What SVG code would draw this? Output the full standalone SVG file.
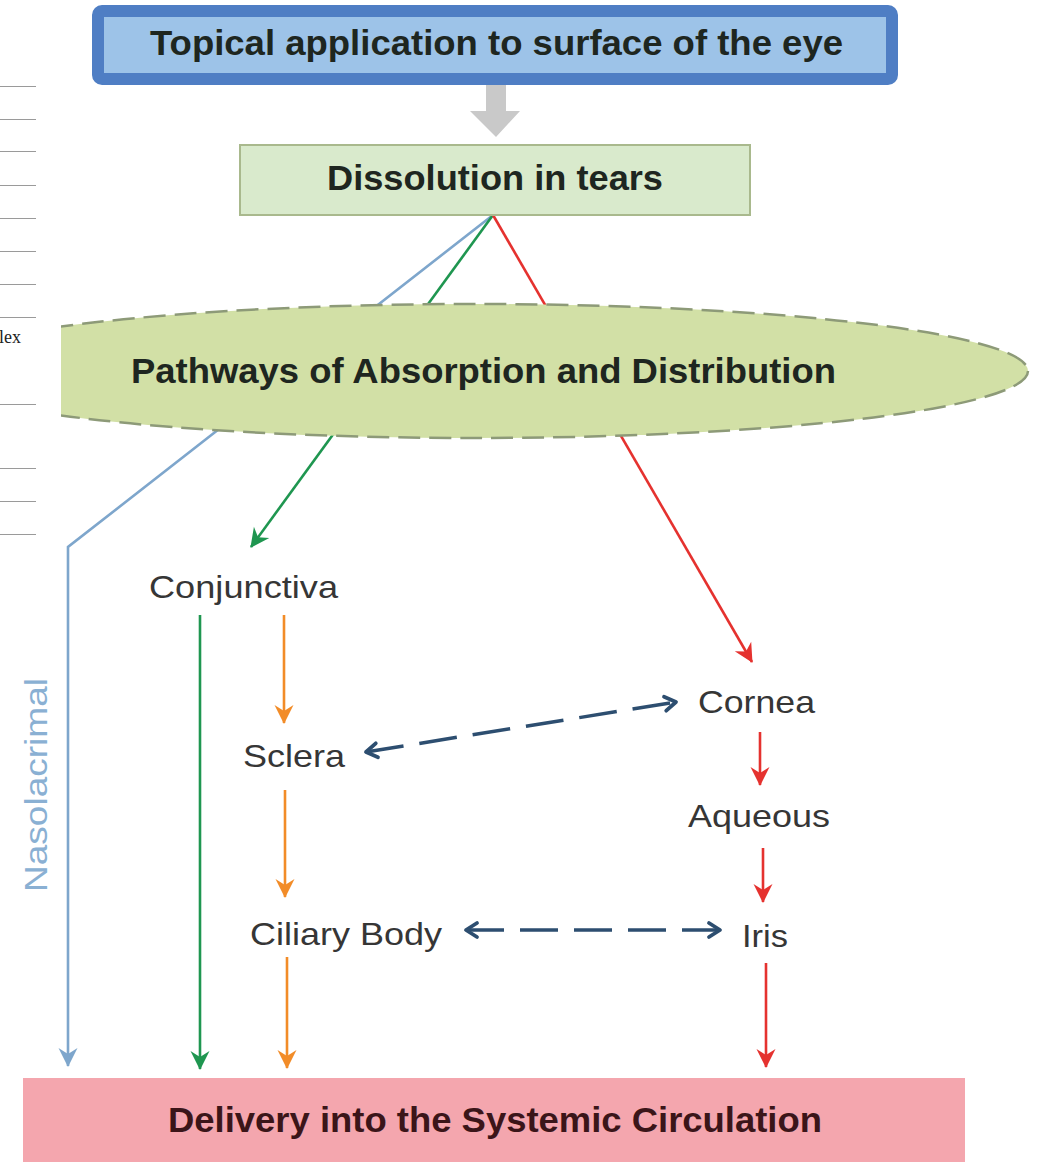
<svg xmlns="http://www.w3.org/2000/svg" width="1040" height="1162" viewBox="0 0 1040 1162">
  <style>
    .bold { font-family: "Liberation Sans", Arial, sans-serif; font-weight: bold; fill: #1e2620; }
    .lbl { font-family: "Liberation Sans", Arial, sans-serif; font-size: 32px; fill: #363636; }
    .rule { stroke: #9a9a9a; stroke-width: 1; }
    .conn { fill: none; stroke-width: 2.6; }
    .dash { fill: none; stroke: #2d4e70; stroke-width: 3.5; stroke-dasharray: 38 16; }
  </style>
  <defs>
    <marker id="ah-blue" viewBox="0 0 24 24" refX="20" refY="12" markerWidth="24" markerHeight="24" markerUnits="userSpaceOnUse" orient="auto">
      <path d="M2,2.5 L21,12 L2,21.5 L8,12 z" fill="#7ea6cc"/>
    </marker>
    <marker id="ah-green" viewBox="0 0 24 24" refX="20" refY="12" markerWidth="24" markerHeight="24" markerUnits="userSpaceOnUse" orient="auto">
      <path d="M2,2.5 L21,12 L2,21.5 L8,12 z" fill="#1f9650"/>
    </marker>
    <marker id="ah-red" viewBox="0 0 24 24" refX="20" refY="12" markerWidth="24" markerHeight="24" markerUnits="userSpaceOnUse" orient="auto">
      <path d="M2,2.5 L21,12 L2,21.5 L8,12 z" fill="#e5322f"/>
    </marker>
    <marker id="ah-orange" viewBox="0 0 24 24" refX="20" refY="12" markerWidth="24" markerHeight="24" markerUnits="userSpaceOnUse" orient="auto">
      <path d="M2,2.5 L21,12 L2,21.5 L8,12 z" fill="#f28c28"/>
    </marker>
    <marker id="ah-open" viewBox="0 0 20 20" refX="16" refY="10" markerWidth="20" markerHeight="20" markerUnits="userSpaceOnUse" orient="auto-start-reverse">
      <path d="M5,3 L16,10 L5,17" fill="none" stroke="#2d4e70" stroke-width="3.8" stroke-linecap="round" stroke-linejoin="round"/>
    </marker>
    <clipPath id="clip-oval">
      <rect x="61" y="280" width="979" height="190"/>
    </clipPath>
  </defs>

  <rect width="1040" height="1162" fill="#ffffff"/>

  <!-- margin rules and fragment of neighbouring page text -->
  <g id="margin">
    <line class="rule" x1="0" y1="86.5" x2="36" y2="86.5"/>
    <line class="rule" x1="0" y1="119.5" x2="36" y2="119.5"/>
    <line class="rule" x1="0" y1="151.5" x2="36" y2="151.5"/>
    <line class="rule" x1="0" y1="185.5" x2="36" y2="185.5"/>
    <line class="rule" x1="0" y1="218.5" x2="36" y2="218.5"/>
    <line class="rule" x1="0" y1="251.5" x2="36" y2="251.5"/>
    <line class="rule" x1="0" y1="284.5" x2="36" y2="284.5"/>
    <line class="rule" x1="0" y1="317.5" x2="36" y2="317.5"/>
    <line class="rule" x1="0" y1="404.5" x2="36" y2="404.5"/>
    <line class="rule" x1="0" y1="468.5" x2="36" y2="468.5"/>
    <line class="rule" x1="0" y1="501.5" x2="36" y2="501.5"/>
    <line class="rule" x1="0" y1="534.5" x2="36" y2="534.5"/>
    <text x="-1" y="343" font-family="'Liberation Serif', 'Times New Roman', serif" font-size="18" fill="#222">lex</text>
  </g>

  <!-- connectors -->
  <g id="connectors">
    <!-- topical -> dissolution -->
    <path d="M486,85 H506 V111 H520 L496,137 L470,111 H486 Z" fill="#c9c9c9"/>
    <!-- nasolacrimal route -->
    <polyline class="conn" points="493,215 68,547 68,1066" stroke="#7ea6cc" marker-end="url(#ah-blue)"/>
    <!-- conjunctival route -->
    <line class="conn" x1="493" y1="215" x2="251" y2="547" stroke="#1f9650" marker-end="url(#ah-green)"/>
    <line class="conn" x1="200" y1="615" x2="200" y2="1069" stroke="#1f9650" marker-end="url(#ah-green)"/>
    <!-- corneal route -->
    <line class="conn" x1="493" y1="215" x2="752" y2="662" stroke="#e5322f" marker-end="url(#ah-red)"/>
    <line class="conn" x1="760" y1="732" x2="760" y2="785" stroke="#e5322f" marker-end="url(#ah-red)"/>
    <line class="conn" x1="763" y1="848" x2="763" y2="902" stroke="#e5322f" marker-end="url(#ah-red)"/>
    <line class="conn" x1="766" y1="963" x2="766" y2="1067" stroke="#e5322f" marker-end="url(#ah-red)"/>
    <!-- scleral route -->
    <line class="conn" x1="284" y1="615" x2="284" y2="723" stroke="#f28c28" marker-end="url(#ah-orange)"/>
    <line class="conn" x1="285" y1="790" x2="285" y2="897" stroke="#f28c28" marker-end="url(#ah-orange)"/>
    <line class="conn" x1="287" y1="957" x2="287" y2="1068" stroke="#f28c28" marker-end="url(#ah-orange)"/>
    <!-- exchange between tissues -->
    <line class="dash" x1="366" y1="752" x2="676" y2="702" marker-start="url(#ah-open)" marker-end="url(#ah-open)"/>
    <line class="dash" x1="466" y1="930" x2="720" y2="930" marker-start="url(#ah-open)" marker-end="url(#ah-open)"/>
  </g>

  <g id="topical">
    <rect x="98" y="11" width="794" height="68" rx="4" fill="#9dc3e8" stroke="#4f7ec4" stroke-width="12"/>
    <text class="bold" x="150" y="55" font-size="35" textLength="693" lengthAdjust="spacingAndGlyphs">Topical application to surface of the eye</text>
  </g>

  <g id="dissolution">
    <rect x="240" y="145" width="510" height="70" fill="#d9eacc" stroke="#a9b98d" stroke-width="2"/>
    <text class="bold" x="327" y="190" font-size="35" textLength="336" lengthAdjust="spacingAndGlyphs">Dissolution in tears</text>
  </g>

  <g id="pathways">
    <ellipse cx="475" cy="371" rx="553" ry="67" fill="#d2e0a6" stroke="#8d9a78" stroke-width="2.5" stroke-dasharray="22 9" clip-path="url(#clip-oval)"/>
    <text class="bold" x="131" y="383" font-size="35" textLength="705" lengthAdjust="spacingAndGlyphs">Pathways of Absorption and Distribution</text>
  </g>

  <g id="nasolacrimal">
    <text x="0" y="0" transform="translate(47,785) rotate(-90)" text-anchor="middle" font-family="'Liberation Sans', Arial, sans-serif" font-size="32" fill="#8ab0d3" textLength="214" lengthAdjust="spacingAndGlyphs">Nasolacrimal</text>
  </g>

  <g id="conjunctiva">
    <text class="lbl" x="149" y="598" textLength="189" lengthAdjust="spacingAndGlyphs">Conjunctiva</text>
  </g>
  <g id="sclera">
    <text class="lbl" x="243" y="767" textLength="102" lengthAdjust="spacingAndGlyphs">Sclera</text>
  </g>
  <g id="ciliary-body">
    <text class="lbl" x="250" y="945" textLength="192" lengthAdjust="spacingAndGlyphs">Ciliary Body</text>
  </g>
  <g id="cornea">
    <text class="lbl" x="698" y="713" textLength="117" lengthAdjust="spacingAndGlyphs">Cornea</text>
  </g>
  <g id="aqueous">
    <text class="lbl" x="688" y="827" textLength="142" lengthAdjust="spacingAndGlyphs">Aqueous</text>
  </g>
  <g id="iris">
    <text class="lbl" x="742" y="947" textLength="46" lengthAdjust="spacingAndGlyphs">Iris</text>
  </g>

  <g id="delivery">
    <rect x="23" y="1078" width="942" height="90" fill="#f4a6ae"/>
    <text class="bold" x="168" y="1132" font-size="35" style="fill:#3b1519" textLength="654" lengthAdjust="spacingAndGlyphs">Delivery into the Systemic Circulation</text>
  </g>
</svg>
